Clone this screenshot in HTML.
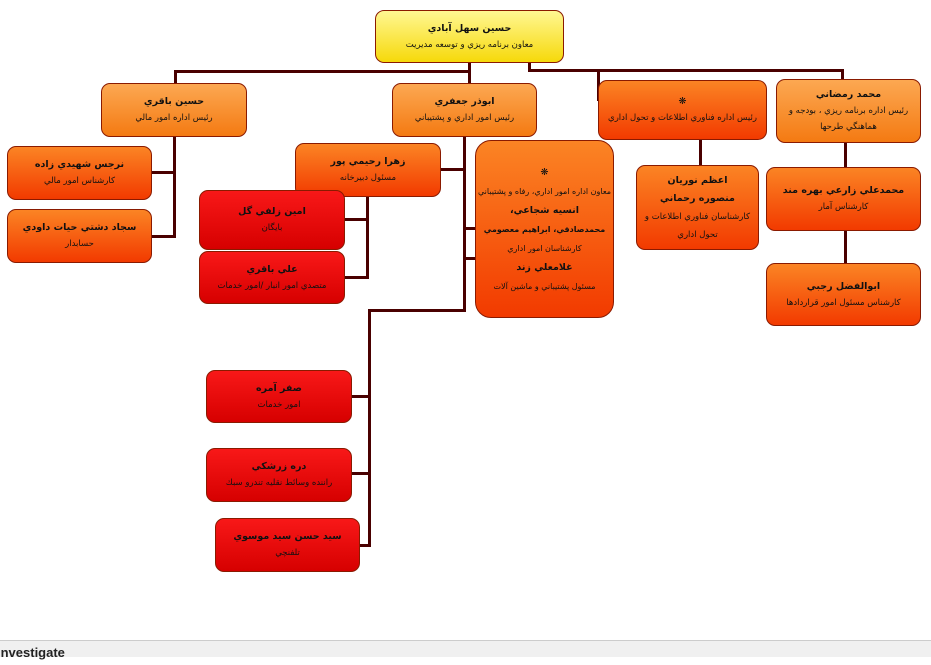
<!DOCTYPE html>
<html><head><meta charset="utf-8"><style>
body{margin:0;width:931px;height:656px;background:#fff;position:relative;overflow:hidden;font-family:"DejaVu Sans","Liberation Sans",sans-serif}
.b{position:absolute;box-sizing:border-box;border:1px solid #8a1a00;border-radius:9px;text-align:center;direction:rtl;display:flex;flex-direction:column;justify-content:center;color:#111;font-size:8.5px;line-height:16px;padding:2px 4px}
.b b{font-size:9.5px}
.y{background:linear-gradient(#fff792,#f6d90a)}
.o{background:linear-gradient(#fca852,#f47a12)}
.r{background:linear-gradient(#fb8424,#f23a00)}
.d{background:linear-gradient(#f81818,#d60000)}
.l{position:absolute;background:#4a0000}
</style></head><body>
<div class="l" style="left:468px;top:62px;width:3px;height:22px"></div>
<div class="l" style="left:174px;top:70px;width:297px;height:3px"></div>
<div class="l" style="left:174px;top:70px;width:3px;height:14px"></div>
<div class="l" style="left:528px;top:62px;width:3px;height:10px"></div>
<div class="l" style="left:528px;top:69px;width:316px;height:3px"></div>
<div class="l" style="left:841px;top:69px;width:3px;height:11px"></div>
<div class="l" style="left:597px;top:69px;width:3px;height:32px"></div>
<div class="l" style="left:173px;top:136px;width:3px;height:102px"></div>
<div class="l" style="left:151px;top:171px;width:24px;height:3px"></div>
<div class="l" style="left:151px;top:235px;width:24px;height:3px"></div>
<div class="l" style="left:463px;top:136px;width:3px;height:175px"></div>
<div class="l" style="left:440px;top:168px;width:25px;height:3px"></div>
<div class="l" style="left:463px;top:227px;width:13px;height:3px"></div>
<div class="l" style="left:463px;top:257px;width:13px;height:3px"></div>
<div class="l" style="left:368px;top:309px;width:98px;height:3px"></div>
<div class="l" style="left:368px;top:309px;width:3px;height:238px"></div>
<div class="l" style="left:351px;top:395px;width:19px;height:3px"></div>
<div class="l" style="left:351px;top:472px;width:19px;height:3px"></div>
<div class="l" style="left:359px;top:544px;width:11px;height:3px"></div>
<div class="l" style="left:366px;top:196px;width:3px;height:83px"></div>
<div class="l" style="left:344px;top:218px;width:24px;height:3px"></div>
<div class="l" style="left:344px;top:276px;width:24px;height:3px"></div>
<div class="l" style="left:699px;top:139px;width:3px;height:28px"></div>
<div class="l" style="left:844px;top:142px;width:3px;height:26px"></div>
<div class="l" style="left:844px;top:230px;width:3px;height:34px"></div>
<div class="b y" style="left:375px;top:10px;width:189px;height:53px"><b>حسين سهل آبادي</b>معاون برنامه ريزي و توسعه مديريت</div>
<div class="b o" style="left:101px;top:83px;width:146px;height:54px"><b>حسين باقري</b>رئيس اداره امور مالي</div>
<div class="b o" style="left:392px;top:83px;width:145px;height:54px"><b>ابوذر جعفري</b>رئيس امور اداري و پشتيباني</div>
<div class="b r" style="left:598px;top:80px;width:169px;height:60px"><b>❋</b>رئيس اداره فناوري اطلاعات و تحول اداري</div>
<div class="b o" style="left:776px;top:79px;width:145px;height:64px"><b>محمد رمضاني</b>رئيس اداره برنامه ريزي ، بودجه و هماهنگي طرحها</div>
<div class="b r" style="left:7px;top:146px;width:145px;height:54px"><b>نرجس شهيدي زاده</b>كارشناس امور مالي</div>
<div class="b r" style="left:7px;top:209px;width:145px;height:54px"><b>سجاد دشتي حيات داودي</b>حسابدار</div>
<div class="b r" style="left:295px;top:143px;width:146px;height:54px"><b>زهرا رحيمي پور</b>مسئول دبيرخانه</div>
<div class="b d" style="left:199px;top:190px;width:146px;height:60px"><b>امين زلفي گل</b>بايگان</div>
<div class="b d" style="left:199px;top:251px;width:146px;height:53px"><b>علي باقري</b>متصدي امور انبار /امور خدمات</div>
<div class="b r" style="left:475px;top:140px;width:139px;height:178px;border-radius:16px;line-height:19px;padding:2px 2px;font-size:8px"><b>❋</b>معاون اداره امور اداري، رفاه و پشتيباني<b>انسيه شجاعي،</b><b style="font-size:8px;white-space:nowrap">محمدصادقي، ابراهيم معصومي</b>كارشناسان امور اداري<b>غلامعلي زند</b>مسئول پشتيباني و ماشين آلات</div>
<div class="b r" style="left:636px;top:165px;width:123px;height:85px;line-height:18px"><b>اعظم نوريان</b><b>منصوره رحماني</b>كارشناسان فناوري اطلاعات و تحول اداري</div>
<div class="b r" style="left:766px;top:167px;width:155px;height:64px"><b>محمدعلي زارعي بهره مند</b>كارشناس آمار</div>
<div class="b r" style="left:766px;top:263px;width:155px;height:63px"><b>ابوالفضل رجبي</b>كارشناس مسئول امور قراردادها</div>
<div class="b d" style="left:206px;top:370px;width:146px;height:53px"><b>صفر آمره</b>امور خدمات</div>
<div class="b d" style="left:206px;top:448px;width:146px;height:54px"><b>دره زرشكي</b>راننده وسائط نقليه تندرو سبك</div>
<div class="b d" style="left:215px;top:518px;width:145px;height:54px"><b>سيد حسن سيد موسوي</b>تلفنچي</div>
<div style="position:absolute;left:0;top:640px;width:931px;height:16px;background:#f0f0f0;border-top:1px solid #ccc;font:bold 13px 'Liberation Sans',sans-serif;color:#222;line-height:24px;text-indent:-3px">Investigate</div>
</body></html>
